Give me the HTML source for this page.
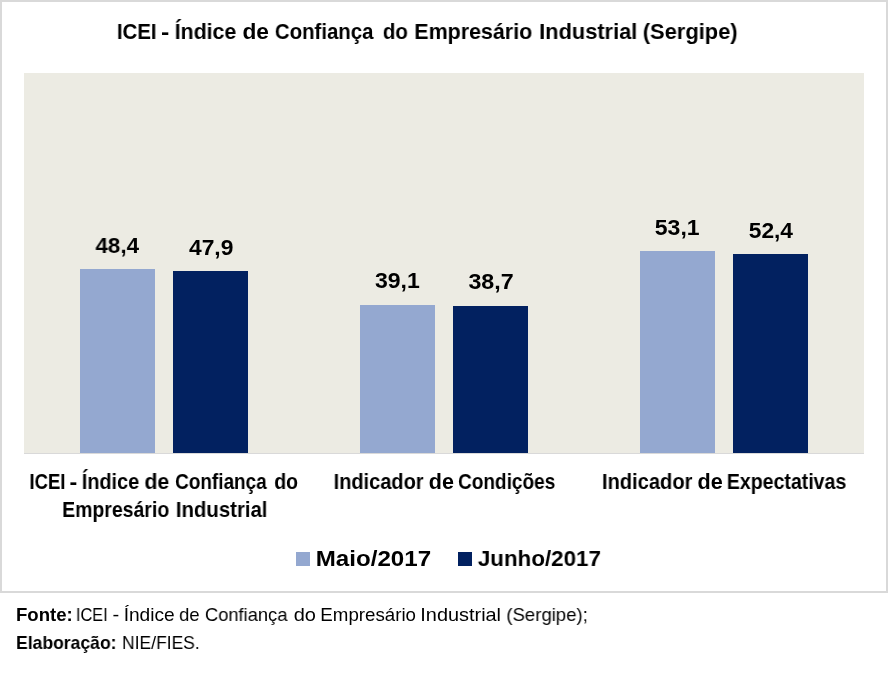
<!DOCTYPE html>
<html lang="pt-BR"><head><meta charset="utf-8"><title>ICEI - Índice de Confiança do Empresário Industrial (Sergipe)</title>
<style>
html,body{margin:0;padding:0;background:#fff;}
body{width:888px;height:677px;position:relative;overflow:hidden;font-family:"Liberation Sans",sans-serif;color:#000;}
.frame{position:absolute;left:0;top:0;width:884px;height:589px;border:2px solid #d9d9d9;background:#fff;}
.plot{position:absolute;left:24px;top:73px;width:840px;height:381px;background:#ecebe3;}
.axis{position:absolute;left:24px;top:453px;width:840px;height:1px;background:#d9d9d9;}
.b{position:absolute;width:74.67px;}
.l{background:#94a8d0;} .d{background:#022160;}
.t{position:absolute;left:0;top:0;white-space:nowrap;transform-origin:0 0;will-change:transform;}
.a{font-size:22.7px;font-weight:700;line-height:26px;}
.n{font-size:22.7px;font-weight:700;line-height:26px;}
.g{font-size:22.7px;font-weight:700;line-height:26px;}
.c{font-size:21.4px;font-weight:700;line-height:24px;}
.fb{font-size:18.6px;font-weight:700;line-height:21px;}
.fr{font-size:18.6px;font-weight:400;line-height:21px;}
.m{position:absolute;width:14px;height:14px;top:552px;}
</style></head><body>
<div class="frame"></div>
<div class="plot"></div>
<div class="b l" style="left:80.00px;top:269.34px;height:184.16px"></div>
<div class="b d" style="left:173.33px;top:271.24px;height:182.26px"></div>
<div class="b l" style="left:360.00px;top:304.72px;height:148.78px"></div>
<div class="b d" style="left:453.33px;top:306.25px;height:147.25px"></div>
<div class="b l" style="left:640.00px;top:251.45px;height:202.05px"></div>
<div class="b d" style="left:733.33px;top:254.12px;height:199.38px"></div>
<div class="axis"></div>
<div class="m l" style="left:296px"></div>
<div class="m d" style="left:458px"></div>
<span class="t a" style="transform:translate(116.91px,18px) scaleX(0.8989)">ICEI</span>
<span class="t a" style="transform:translate(160.90px,18px) scaleX(1.0995)">-</span>
<span class="t a" style="transform:translate(174.70px,18px) scaleX(0.9387)">Índice</span>
<span class="t a" style="transform:translate(242.48px,18px) scaleX(1.0010)">de</span>
<span class="t a" style="transform:translate(274.87px,18px) scaleX(0.8987)">Confiança</span>
<span class="t a" style="transform:translate(382.84px,18px) scaleX(0.9067)">do</span>
<span class="t a" style="transform:translate(414.26px,18px) scaleX(0.9450)">Empresário</span>
<span class="t a" style="transform:translate(539.14px,18px) scaleX(0.9612)">Industrial</span>
<span class="t a" style="transform:translate(642.77px,18px) scaleX(0.9641)">(Sergipe)</span>
<span class="t n" style="transform:translate(95.49px,232px) scaleX(0.9873)">48,4</span>
<span class="t n" style="transform:translate(188.96px,234px) scaleX(1.0055)">47,9</span>
<span class="t n" style="transform:translate(374.89px,267px) scaleX(1.0154)">39,1</span>
<span class="t n" style="transform:translate(468.39px,268px) scaleX(1.0240)">38,7</span>
<span class="t n" style="transform:translate(654.82px,214px) scaleX(1.0147)">53,1</span>
<span class="t n" style="transform:translate(748.71px,217px) scaleX(1.0040)">52,4</span>
<span class="t c" style="transform:translate(29.45px,470px) scaleX(0.8620)">ICEI</span>
<span class="t c" style="transform:translate(69.60px,470px) scaleX(1.0895)">-</span>
<span class="t c" style="transform:translate(81.79px,470px) scaleX(0.9279)">Índice</span>
<span class="t c" style="transform:translate(144.49px,470px) scaleX(0.9923)">de</span>
<span class="t c" style="transform:translate(175.11px,470px) scaleX(0.8856)">Confiança</span>
<span class="t c" style="transform:translate(274.30px,470px) scaleX(0.9098)">do</span>
<span class="t c" style="transform:translate(62.19px,498px) scaleX(0.9090)">Empresário</span>
<span class="t c" style="transform:translate(175.82px,498px) scaleX(0.9520)">Industrial</span>
<span class="t c" style="transform:translate(333.63px,470px) scaleX(0.9337)">Indicador</span>
<span class="t c" style="transform:translate(428.75px,470px) scaleX(1.0057)">de</span>
<span class="t c" style="transform:translate(458.01px,470px) scaleX(0.8897)">Condições</span>
<span class="t c" style="transform:translate(601.94px,470px) scaleX(0.9393)">Indicador</span>
<span class="t c" style="transform:translate(697.44px,470px) scaleX(1.0103)">de</span>
<span class="t c" style="transform:translate(726.81px,470px) scaleX(0.9131)">Expectativas</span>
<span class="t g" style="transform:translate(315.76px,545px) scaleX(1.0631)">Maio/2017</span>
<span class="t g" style="transform:translate(477.84px,545px) scaleX(0.9862)">Junho/2017</span>
<span class="t fb" style="transform:translate(15.95px,604px) scaleX(1.0003)">Fonte:</span>
<span class="t fr" style="transform:translate(75.88px,604px) scaleX(0.8788)">ICEI</span>
<span class="t fr" style="transform:translate(112.53px,604px) scaleX(1.0878)">-</span>
<span class="t fr" style="transform:translate(123.66px,604px) scaleX(1.0295)">Índice</span>
<span class="t fr" style="transform:translate(179.08px,604px) scaleX(0.9956)">de</span>
<span class="t fr" style="transform:translate(204.93px,604px) scaleX(0.9847)">Confiança</span>
<span class="t fr" style="transform:translate(293.71px,604px) scaleX(1.0759)">do</span>
<span class="t fr" style="transform:translate(320.33px,604px) scaleX(1.0060)">Empresário</span>
<span class="t fr" style="transform:translate(420.31px,604px) scaleX(1.0701)">Industrial</span>
<span class="t fr" style="transform:translate(506.33px,604px) scaleX(0.9983)">(Sergipe);</span>
<span class="t fb" style="transform:translate(16.05px,632px) scaleX(0.9436)">Elaboração:</span>
<span class="t fr" style="transform:translate(122.00px,632px) scaleX(0.9406)">NIE/FIES.</span>
</body></html>
